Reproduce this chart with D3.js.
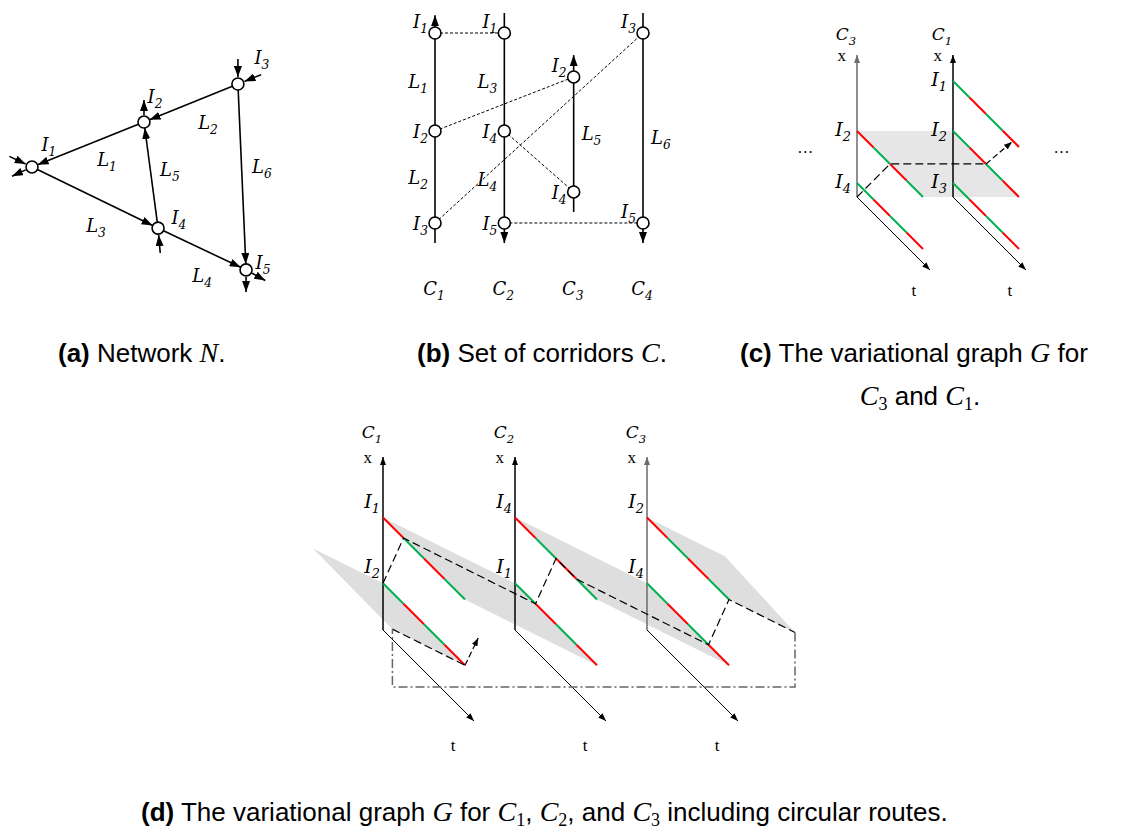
<!DOCTYPE html>
<html>
<head>
<meta charset="utf-8">
<script src="https://cdn.jsdelivr.net/npm/d3@7"></script>
<style>
  body { margin: 0; background: #fff; }
  svg { display: block; }
</style>
</head>
<body>
<svg id="fig" width="1137" height="834"></svg>
<script>
// ---------- data ----------
// (a) network: node positions in map units, links, labels, external stubs
var netNodes = [
  {id: "I1", x: 0,    y: 5.23},
  {id: "I2", x: 5.09, y: 7.27},
  {id: "I3", x: 9.36, y: 9.0},
  {id: "I4", x: 5.73, y: 2.45},
  {id: "I5", x: 9.73, y: 0.55}
];
var netLinks = [
  {id: "L1", from: "I2", to: "I1"},
  {id: "L2", from: "I3", to: "I2"},
  {id: "L3", from: "I1", to: "I4"},
  {id: "L4", from: "I4", to: "I5"},
  {id: "L5", from: "I4", to: "I2"},
  {id: "L6", from: "I3", to: "I5"}
];
var netLabels = [
  {t: "L", s: "1", x: 3.41, y: 5.27}, {t: "L", s: "2", x: 8.0, y: 6.95},
  {t: "L", s: "3", x: 2.91, y: 2.27}, {t: "L", s: "4", x: 7.73, y: 0},
  {t: "L", s: "5", x: 6.27, y: 4.82}, {t: "L", s: "6", x: 10.45, y: 4.95},
  {t: "I", s: "1", x: 0.77, y: 5.95}, {t: "I", s: "2", x: 5.59, y: 8.14},
  {t: "I", s: "3", x: 10.45, y: 9.91}, {t: "I", s: "4", x: 6.68, y: 2.64},
  {t: "I", s: "5", x: 10.5, y: 0.59}
];
var netStubs = [
  {node: "I3", ang: 90, dir: "in"},  {node: "I3", ang: 22, dir: "in"},
  {node: "I2", ang: 90, dir: "out"}, {node: "I1", ang: 155, dir: "in"},
  {node: "I1", ang: 205, dir: "out"}, {node: "I4", ang: 275, dir: "in"},
  {node: "I5", ang: 270, dir: "out"}, {node: "I5", ang: 331, dir: "out"}
];

// (b) corridors
var corrB = [
  {name: "C1", from: 0,    to: 9.9,  arrow: "top"},
  {name: "C2", from: 0,    to: 10,   arrow: "bottom"},
  {name: "C3", from: 1.35, to: 8.17, arrow: "top"},
  {name: "C4", from: 0,    to: 10,   arrow: "bottom"}
];
var stopsB = [
  {c: "C1", n: "1", p: 9.13, up: true}, {c: "C1", n: "2", p: 4.87}, {c: "C1", n: "3", p: 0.87},
  {c: "C2", n: "1", p: 9.13, up: true}, {c: "C2", n: "4", p: 4.87}, {c: "C2", n: "5", p: 0.87},
  {c: "C3", n: "2", p: 7.22, up: true}, {c: "C3", n: "4", p: 2.22},
  {c: "C4", n: "3", p: 9.13, up: true}, {c: "C4", n: "5", p: 0.87, up: true}
];
var sameB = [
  [["C1", "1"], ["C2", "1"]], [["C1", "2"], ["C3", "2"]], [["C1", "3"], ["C4", "3"]],
  [["C2", "4"], ["C3", "4"]], [["C2", "5"], ["C4", "5"]]
];
var linkLabB = [
  {c: "C1", s: "1", p: 6.74, side: "left"}, {c: "C1", s: "2", p: 2.57, side: "left"},
  {c: "C2", s: "3", p: 6.74, side: "left"}, {c: "C2", s: "4", p: 2.48, side: "left"},
  {c: "C3", s: "5", p: 4.48, side: "right"}, {c: "C4", s: "6", p: 4.3, side: "right"}
];

// (c) variational graph for C3 and C1  (c = corridor, p = position, t = time)
var corrC = ["3", "1"];
var trajC = [
  {c: 0, n: "2", p: 4.65, seg: ["r", "g", "r", "g"]},
  {c: 0, n: "4", p: 0.99, seg: ["g", "r", "g", "r"]},
  {c: 1, n: "1", p: 8.17, seg: ["g", "r", "g", "r"]},
  {c: 1, n: "2", p: 4.65, seg: ["g", "r", "g", "r"]},
  {c: 1, n: "3", p: 0.99, seg: ["g", "r", "g", "r"]}
];
var bandsC = [[[0, 4.65, 0], [1, 4.65, 0], [1, 4.65, 4], [0, 4.65, 4]]];
var routeC = [[0, 0, 0], [0, 4.65, 2], [1, 4.65, 2]];
var arrowC = [[1, 4.65, 2], [1.27, 6.2, 2]];
var dotsC = [[-0.54, 3.1], [2.13, 3.1]];

// (d) variational graph for C1, C2, C3 with circular route
var corrD = ["1", "2", "3"];
var trajD = [
  {c: 0, n: "1", p: 6.5, seg: ["r", "g", "r", "g"]},
  {c: 0, n: "2", p: 2.7, seg: ["g", "r", "g", "r"]},
  {c: 1, n: "4", p: 6.5, seg: ["r", "g", "r", "g"]},
  {c: 1, n: "1", p: 2.7, seg: ["g", "r", "g", "r"]},
  {c: 2, n: "2", p: 6.5, seg: ["r", "g", "r", "g"]},
  {c: 2, n: "4", p: 2.7, seg: ["g", "r", "g", "r"]}
];
var bandsD = [
  [[0, 6.5, 0], [1, 2.7, 0], [1, 2.7, 4], [0, 6.5, 4]],
  [[1, 6.5, 0], [2, 2.7, 0], [2, 2.7, 4], [1, 6.5, 4]],
  [[2, 6.5, 0], [2.59, 4.26, 0], [2.5, 4.6, 4], [2, 6.5, 4]],
  [[-0.53, 4.71, 0], [0, 2.7, 0], [0, 2.7, 4], [-0.55, 4.79, 4]]
];
var routeD = [[0, 2.7, 0], [0, 6.5, 1], [1, 2.7, 1], [1, 6.5, 2], [1, 6.5, 3], [2, 2.7, 3], [2, 6.5, 4], [2.5, 4.6, 4]];
var wrapD = [[2.5, 4.6, 4], [2.5, 1.45, 4], [-0.55, 1.45, 4], [-0.55, 4.79, 4]];
var routeD2 = [[-0.55, 4.79, 4], [0, 2.7, 4]];
var arrowD = [[0, 2.7, 4], [0.1, 4.28, 4]];

// ---------- setup ----------
var svg = d3.select("#fig");
var labFont = "'DejaVu Serif', 'Liberation Serif', serif";
var serif = "'Liberation Serif', 'DejaVu Serif', serif";
var sans = "'Liberation Sans', Arial, sans-serif";
var segColor = {r: "#ff0000", g: "#00b050"};

var defs = svg.append("defs");
function marker(id, len, wid, color) {
  defs.append("marker").attr("id", id)
    .attr("viewBox", "0 0 " + len + " " + wid)
    .attr("refX", len).attr("refY", wid / 2)
    .attr("markerWidth", len).attr("markerHeight", wid)
    .attr("markerUnits", "userSpaceOnUse")
    .attr("orient", "auto")
    .append("path").attr("d", "M0,0L" + len + "," + wid / 2 + "L0," + wid + "Z").attr("fill", color);
}
marker("head", 11, 8, "#000");
marker("axis", 8, 6, "#000");
marker("axisGray", 8, 6, "#6b6b6b");

// italic label with subscript
function subLabel(g, x, y, base, sub, anchor, size) {
  size = size || 18;
  var t = g.append("text").attr("x", x).attr("y", y)
    .attr("text-anchor", anchor || "start")
    .attr("font-family", labFont).attr("font-style", "italic").attr("font-size", size);
  t.append("tspan").text(base);
  t.append("tspan").attr("font-size", size * 0.68).attr("dy", 5).text(sub);
  return t;
}

// ---------- (a) network ----------
var gA = svg.append("g");
var xN = d3.scaleLinear().domain([0, 10]).range([32, 252]);
var yN = d3.scaleLinear().domain([0, 10]).range([282, 62]);
var R = 6;
var nodeById = {};
netNodes.forEach(function(d) { d.px = xN(d.x); d.py = yN(d.y); nodeById[d.id] = d; });

gA.selectAll("line.edge").data(netLinks).enter().append("line")
  .each(function(d) {
    var a = nodeById[d.from], b = nodeById[d.to];
    var dx = b.px - a.px, dy = b.py - a.py, L = Math.hypot(dx, dy);
    d3.select(this)
      .attr("x1", a.px + dx / L * R).attr("y1", a.py + dy / L * R)
      .attr("x2", b.px - dx / L * R).attr("y2", b.py - dy / L * R);
  })
  .attr("stroke", "#000").attr("stroke-width", 1.6).attr("marker-end", "url(#head)");

gA.selectAll("line.stub").data(netStubs).enter().append("line")
  .each(function(d) {
    var n = nodeById[d.node], a = d.ang * Math.PI / 180;
    var ux = Math.cos(a), uy = -Math.sin(a);
    var r0 = d.dir === "in" ? 25 : 7, r1 = d.dir === "in" ? 7 : 22;
    d3.select(this)
      .attr("x1", n.px + ux * r0).attr("y1", n.py + uy * r0)
      .attr("x2", n.px + ux * r1).attr("y2", n.py + uy * r1);
  })
  .attr("stroke", "#000").attr("stroke-width", 1.6).attr("marker-end", "url(#head)");

gA.selectAll("circle").data(netNodes).enter().append("circle")
  .attr("cx", function(d) { return d.px; }).attr("cy", function(d) { return d.py; })
  .attr("r", R).attr("fill", "#fff").attr("stroke", "#000").attr("stroke-width", 1.6);

netLabels.forEach(function(d) { subLabel(gA, xN(d.x), yN(d.y), d.t, d.s, "middle"); });

// ---------- (b) corridors ----------
var gB = svg.append("g");
var xB = d3.scalePoint().domain(corrB.map(function(d) { return d.name; })).range([435, 643]);
var yB = d3.scaleLinear().domain([0, 10]).range([243, 13]);
function stopB(c, n) {
  var s = stopsB.filter(function(d) { return d.c === c && d.n === n; })[0];
  return [xB(c), yB(s.p)];
}

gB.selectAll("line.corr").data(corrB).enter().append("line")
  .attr("x1", function(d) { return xB(d.name); }).attr("x2", function(d) { return xB(d.name); })
  .attr("y1", function(d) { return d.arrow === "top" ? yB(d.from) : yB(d.to); })
  .attr("y2", function(d) { return d.arrow === "top" ? yB(d.to) : yB(d.from); })
  .attr("stroke", "#000").attr("stroke-width", 1.6).attr("marker-end", "url(#head)");

gB.selectAll("line.same").data(sameB).enter().append("line")
  .attr("x1", function(d) { return stopB(d[0][0], d[0][1])[0]; })
  .attr("y1", function(d) { return stopB(d[0][0], d[0][1])[1]; })
  .attr("x2", function(d) { return stopB(d[1][0], d[1][1])[0]; })
  .attr("y2", function(d) { return stopB(d[1][0], d[1][1])[1]; })
  .attr("stroke", "#000").attr("stroke-width", 1).attr("stroke-dasharray", "3,2");

gB.selectAll("circle").data(stopsB).enter().append("circle")
  .attr("cx", function(d) { return xB(d.c); }).attr("cy", function(d) { return yB(d.p); })
  .attr("r", R).attr("fill", "#fff").attr("stroke", "#000").attr("stroke-width", 1.6);

stopsB.forEach(function(d) {
  subLabel(gB, xB(d.c) - 7, yB(d.p) + (d.up ? -5 : 7), "I", d.n, "end");
});
linkLabB.forEach(function(d) {
  if (d.side === "left") subLabel(gB, xB(d.c) - 7, yB(d.p), "L", d.s, "end");
  else subLabel(gB, xB(d.c) + 8, yB(d.p), "L", d.s, "start");
});
corrB.forEach(function(d) {
  subLabel(gB, xB(d.name) - 1, yB(-2.26), "C", d.name.slice(1), "middle");
});

// ---------- time-space panels (c) and (d) ----------
function drawTS(cfg) {
  var g = svg.append("g");
  function pt(d) { return [cfg.x(d[0]) + cfg.t(d[2]), cfg.y(d[1]) + cfg.t(d[2])]; }
  var line = d3.line().x(function(d) { return pt(d)[0]; }).y(function(d) { return pt(d)[1]; });

  // shaded areas between trajectories of the same intersection
  g.selectAll("path.band").data(cfg.bands).enter().append("path")
    .attr("d", function(d) { return line(d) + "Z"; })
    .attr("fill", cfg.fill).attr("stroke", "none");

  // axes
  cfg.corr.forEach(function(name, i) {
    var gray = name === "3";
    var o = pt([i, 0, 0]), top = pt([i, 10, 0]), tip = pt([i, 0, cfg.tMax]);
    g.append("line").attr("x1", o[0]).attr("y1", o[1]).attr("x2", top[0]).attr("y2", top[1])
      .attr("stroke", gray ? "#6b6b6b" : "#000").attr("stroke-width", 1.5)
      .attr("marker-end", gray ? "url(#axisGray)" : "url(#axis)");
    g.append("line").attr("x1", o[0]).attr("y1", o[1]).attr("x2", tip[0]).attr("y2", tip[1])
      .attr("stroke", "#000").attr("stroke-width", 1).attr("marker-end", "url(#axis)");
    subLabel(g, top[0] - 1, top[1] - cfg.cOff, "C", name, "end", 17);
    g.append("text").attr("x", top[0] - 11).attr("y", top[1] + 6).attr("text-anchor", "end")
      .attr("font-family", serif).attr("font-size", 17).text("x");
    g.append("text").attr("x", tip[0] + cfg.tLab[0]).attr("y", tip[1] + cfg.tLab[1])
      .attr("text-anchor", "middle").attr("font-family", serif).attr("font-size", 17).text("t");
  });

  // trajectories, alternating red / green phases
  cfg.traj.forEach(function(tr) {
    tr.seg.forEach(function(s, k) {
      var a = pt([tr.c, tr.p, k]), b = pt([tr.c, tr.p, k + 1]);
      g.append("line").attr("x1", a[0]).attr("y1", a[1]).attr("x2", b[0]).attr("y2", b[1])
        .attr("stroke", segColor[s]).attr("stroke-width", 2);
    });
    var s0 = pt([tr.c, tr.p, 0]);
    subLabel(g, s0[0] - cfg.iOff[0], s0[1] + cfg.iOff[1], "I", tr.n, "end", 19);
  });

  // routes
  cfg.routes.forEach(function(r) {
    g.append("path").attr("d", line(r)).attr("fill", "none")
      .attr("stroke", "#000").attr("stroke-width", 1.2).attr("stroke-dasharray", "8,4");
  });
  if (cfg.wrap) {
    g.append("path").attr("d", line(cfg.wrap)).attr("fill", "none")
      .attr("stroke", "#666").attr("stroke-width", 1.5).attr("stroke-dasharray", "9,3,2,3");
  }
  g.append("path").attr("d", line(cfg.arrow)).attr("fill", "none")
    .attr("stroke", "#000").attr("stroke-width", 1.2).attr("stroke-dasharray", "6,3")
    .attr("marker-end", "url(#axis)");

  (cfg.dots || []).forEach(function(d) {
    var p = pt([d[0], d[1], 0]);
    g.append("text").attr("x", p[0]).attr("y", p[1]).attr("text-anchor", "middle")
      .attr("font-family", serif).attr("font-size", 16).text("\u2026");
  });
}

drawTS({
  corr: corrC, traj: trajC, bands: bandsC, routes: [routeC], arrow: arrowC, dots: dotsC,
  x: d3.scaleLinear().domain([0, 1]).range([857, 953]),
  y: d3.scaleLinear().domain([0, 10]).range([197, 55]),
  t: d3.scaleLinear().domain([0, 1]).range([0, 16.5]),
  tMax: 4.42, fill: "#e6e6e6", cOff: 15, iOff: [6, 5], tLab: [-16, 26]
});

drawTS({
  corr: corrD, traj: trajD, bands: bandsD, routes: [routeD, routeD2], wrap: wrapD, arrow: arrowD,
  x: d3.scaleLinear().domain([0, 1]).range([383, 515]),
  y: d3.scaleLinear().domain([0, 10]).range([630, 457]),
  t: d3.scaleLinear().domain([0, 1]).range([0, 20.5]),
  tMax: 4.44, fill: "#dedede", cOff: 19, iOff: [3, -10], tLab: [-21, 30]
});

// ---------- captions ----------
function caption(x, y, parts, anchor) {
  var t = svg.append("text").attr("x", x).attr("y", y).attr("text-anchor", anchor || "start")
    .attr("font-family", sans).attr("font-size", 26).attr("fill", "#000");
  var prevSub = false;
  parts.forEach(function(p) {
    var s = t.append("tspan").text(p[0]);
    if (p[1] === "b") s.attr("font-weight", "bold");
    if (p[1] === "m") s.attr("font-family", serif).attr("font-style", "italic").attr("font-size", 28);
    if (p[1] === "s") s.attr("font-family", serif).attr("font-size", 18).attr("dy", 5);
    else if (prevSub) s.attr("dy", -5);
    prevSub = p[1] === "s";
  });
}
caption(58, 362, [["(a)", "b"], [" Network ", "n"], ["N", "m"], [".", "n"]]);
caption(417, 362, [["(b)", "b"], [" Set of corridors ", "n"], ["C", "m"], [".", "n"]]);
caption(740, 362, [["(c)", "b"], [" The variational graph ", "n"], ["G", "m"], [" for", "n"]]);
caption(920, 405, [["C", "m"], ["3", "s"], [" and ", "n"], ["C", "m"], ["1", "s"], [".", "n"]], "middle");
caption(141, 821, [["(d)", "b"], [" The variational graph ", "n"], ["G", "m"], [" for ", "n"],
  ["C", "m"], ["1", "s"], [", ", "n"], ["C", "m"], ["2", "s"], [", and ", "n"],
  ["C", "m"], ["3", "s"], [" including circular routes.", "n"]]);
</script>
</body>
</html>
